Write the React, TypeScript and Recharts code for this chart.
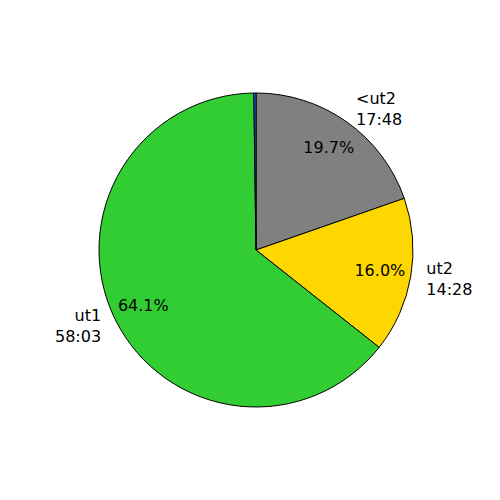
import { PieChart, Pie, Cell } from 'recharts'

const names = ['<ut2', 'ut2', 'ut1', '']
const times = ['17:48', '14:28', '58:03', '']
const seconds = [1068, 868, 3483, 12]
const colors = ['#808080', '#FFD700', '#32CD32', '#1E6FFF']

const data = names.map((n, i) => ({ name: n, time: times[i], value: seconds[i] }))
const total = seconds.reduce((a, b) => a + b, 0)

const RAD = Math.PI / 180

const renderLabel = ({ cx, cy, midAngle, outerRadius, index }: any) => {
  if (!names[index]) return null
  const cos = Math.cos(-midAngle * RAD)
  const sin = Math.sin(-midAngle * RAD)
  const pr = outerRadius * 0.8
  const lr = outerRadius * 1.1
  const px = cx + pr * cos
  const py = cy + pr * sin
  const lx = cx + lr * cos
  const ly = cy + lr * sin
  const pct = ((seconds[index] / total) * 100).toFixed(1) + '%'
  const anchor = lx > cx ? 'start' : 'end'
  return (
    <g>
      <text x={px} y={py} textAnchor="middle" dominantBaseline="central" fill="#000" fontSize={16} fontFamily="DejaVu Sans">
        {pct}
      </text>
      <text x={lx} y={ly - 10.5} textAnchor={anchor} dominantBaseline="central" fill="#000" fontSize={16} fontFamily="DejaVu Sans">
        {names[index]}
      </text>
      <text x={lx} y={ly + 10.5} textAnchor={anchor} dominantBaseline="central" fill="#000" fontSize={16} fontFamily="DejaVu Sans">
        {times[index]}
      </text>
    </g>
  )
}

export default function App() {
  return (
    <div style={{ position: 'absolute', left: 0, top: 0, width: 500, height: 500, background: '#fff' }}>
      <PieChart width={500} height={500} margin={{ top: 0, right: 0, bottom: 0, left: 0 }}>
        <Pie
          data={data}
          dataKey="value"
          cx={256}
          cy={250}
          outerRadius={157}
          startAngle={90}
          endAngle={-270}
          stroke="#000"
          strokeWidth={1}
          label={renderLabel}
          labelLine={false}
          isAnimationActive={false}
        >
          {data.map((d, i) => (
            <Cell key={i} fill={colors[i]} />
          ))}
        </Pie>
      </PieChart>
    </div>
  )
}
